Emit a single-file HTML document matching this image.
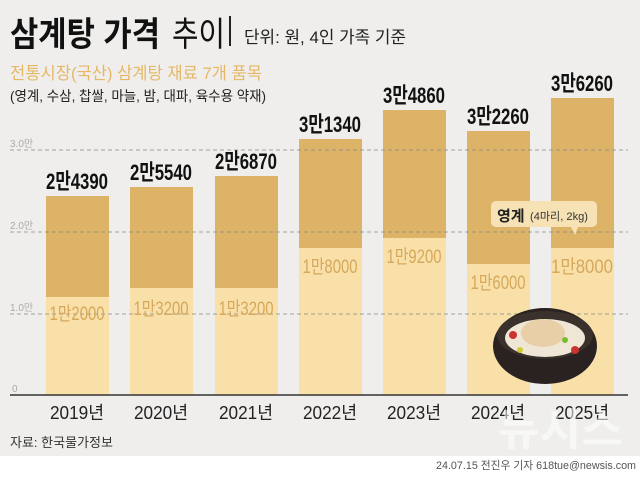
<!DOCTYPE html><html><head><meta charset="utf-8"><style>
body{margin:0;width:640px;height:472px;overflow:hidden;background:#fff}
text{font-family:"Liberation Sans","Noto Sans CJK KR",sans-serif}
</style></head><body>
<svg width="640" height="472" viewBox="0 0 640 472" xmlns="http://www.w3.org/2000/svg">
<rect x="0" y="0" width="640" height="456" fill="#efeeec"/>
<text x="10" y="46" font-size="34" font-weight="bold" fill="#111" textLength="150" lengthAdjust="spacingAndGlyphs">삼계탕 가격</text>
<text x="172" y="46" font-size="34" fill="#111" textLength="53" lengthAdjust="spacingAndGlyphs">추이</text>
<rect x="229" y="16" width="2" height="30" fill="#222"/>
<text x="244" y="43" font-size="17" fill="#222" textLength="162" lengthAdjust="spacingAndGlyphs">단위: 원, 4인 가족 기준</text>
<text x="10" y="79" font-size="17" fill="#e6b866" textLength="252" lengthAdjust="spacingAndGlyphs">전통시장(국산) 삼계탕 재료 7개 품목</text>
<text x="10" y="101" font-size="14" fill="#222" textLength="256" lengthAdjust="spacingAndGlyphs">(영계, 수삼, 찹쌀, 마늘, 밤, 대파, 육수용 약재)</text>
<g fill="#dcb367">
<rect x="46" y="196" width="63" height="199"/><rect x="130" y="187" width="63" height="208"/><rect x="215" y="176" width="63" height="219"/><rect x="299" y="139" width="63" height="256"/><rect x="383" y="110" width="63" height="285"/><rect x="467" y="131" width="63" height="264"/><rect x="551" y="98" width="63" height="297"/>
</g>
<g fill="#f8e0a8">
<rect x="46" y="297" width="63" height="98"/><rect x="130" y="288" width="63" height="107"/><rect x="215" y="288" width="63" height="107"/><rect x="299" y="248" width="63" height="147"/><rect x="383" y="238" width="63" height="157"/><rect x="467" y="264" width="63" height="131"/><rect x="551" y="248" width="63" height="147"/>
</g>
<g stroke="#888" stroke-dasharray="4,3" stroke-width="0.8">
<line x1="10" y1="150" x2="628" y2="150"/><line x1="10" y1="232" x2="628" y2="232"/><line x1="10" y1="314" x2="628" y2="314"/>
</g>
<g font-size="10" fill="#aaa"><text x="10" y="147">3.0만</text><text x="10" y="229">2.0만</text><text x="10" y="311">1.0만</text><text x="12" y="392">0</text></g>
<line x1="10" y1="395" x2="628" y2="395" stroke="#333" stroke-width="1.5"/>
<g font-size="22" font-weight="bold" fill="#111" text-anchor="middle">
<text x="77" y="189" textLength="62" lengthAdjust="spacingAndGlyphs">2만4390</text>
<text x="161" y="180" textLength="62" lengthAdjust="spacingAndGlyphs">2만5540</text>
<text x="246" y="169" textLength="62" lengthAdjust="spacingAndGlyphs">2만6870</text>
<text x="330" y="132" textLength="62" lengthAdjust="spacingAndGlyphs">3만1340</text>
<text x="414" y="103" textLength="62" lengthAdjust="spacingAndGlyphs">3만4860</text>
<text x="498" y="124" textLength="62" lengthAdjust="spacingAndGlyphs">3만2260</text>
<text x="582" y="91" textLength="62" lengthAdjust="spacingAndGlyphs">3만6260</text>
</g>
<g font-size="19" fill="#d6a85c" text-anchor="middle">
<text x="77" y="320" textLength="55" lengthAdjust="spacingAndGlyphs">1만2000</text>
<text x="161" y="315" textLength="55" lengthAdjust="spacingAndGlyphs">1만3200</text>
<text x="246" y="315" textLength="55" lengthAdjust="spacingAndGlyphs">1만3200</text>
<text x="330" y="273" textLength="55" lengthAdjust="spacingAndGlyphs">1만8000</text>
<text x="414" y="263" textLength="55" lengthAdjust="spacingAndGlyphs">1만9200</text>
<text x="498" y="289" textLength="55" lengthAdjust="spacingAndGlyphs">1만6000</text>
<text x="582" y="273" textLength="62" lengthAdjust="spacingAndGlyphs">1만8000</text>
</g>
<g font-size="18" fill="#222" text-anchor="middle">
<text x="77" y="419" textLength="54" lengthAdjust="spacingAndGlyphs">2019년</text>
<text x="161" y="419" textLength="54" lengthAdjust="spacingAndGlyphs">2020년</text>
<text x="246" y="419" textLength="54" lengthAdjust="spacingAndGlyphs">2021년</text>
<text x="330" y="419" textLength="54" lengthAdjust="spacingAndGlyphs">2022년</text>
<text x="414" y="419" textLength="54" lengthAdjust="spacingAndGlyphs">2023년</text>
<text x="498" y="419" textLength="54" lengthAdjust="spacingAndGlyphs">2024년</text>
<text x="582" y="419" textLength="54" lengthAdjust="spacingAndGlyphs">2025년</text>
</g>
<text x="498" y="445" font-size="44" font-weight="bold" fill="#fff" opacity="0.55" textLength="125" lengthAdjust="spacingAndGlyphs">뉴시스</text>
<path d="M496 201 h96 a5 5 0 0 1 5 5 v16 a5 5 0 0 1 -5 5 h-14 l-3 8 l-4 -8 h-75 a5 5 0 0 1 -5 -5 v-16 a5 5 0 0 1 5 -5z" fill="#f6e2b4"/>
<text x="497" y="221" font-size="15" font-weight="bold" fill="#222">영계</text>
<text x="530" y="220" font-size="11" fill="#333" textLength="58" lengthAdjust="spacingAndGlyphs">(4마리, 2kg)</text>
<ellipse cx="545" cy="346" rx="52" ry="38" fill="#2a2220"/>
<ellipse cx="545" cy="335" rx="48" ry="24" fill="#3a302c"/>
<ellipse cx="545" cy="338" rx="40" ry="19" fill="#efe6d6"/>
<ellipse cx="543" cy="333" rx="22" ry="14" fill="#e8cfa8"/>
<circle cx="513" cy="335" r="4" fill="#c33"/><circle cx="575" cy="350" r="4" fill="#c33"/><circle cx="565" cy="340" r="3" fill="#7b3"/><circle cx="520" cy="350" r="3" fill="#cc3"/>
<rect x="0" y="456" width="640" height="16" fill="#fff"/>
<text x="10" y="447" font-size="13" fill="#333">자료: 한국물가정보</text>
<text x="636" y="469" font-size="11" fill="#555" text-anchor="end" textLength="200" lengthAdjust="spacingAndGlyphs">24.07.15 전진우 기자 618tue@newsis.com</text>
</svg></body></html>
